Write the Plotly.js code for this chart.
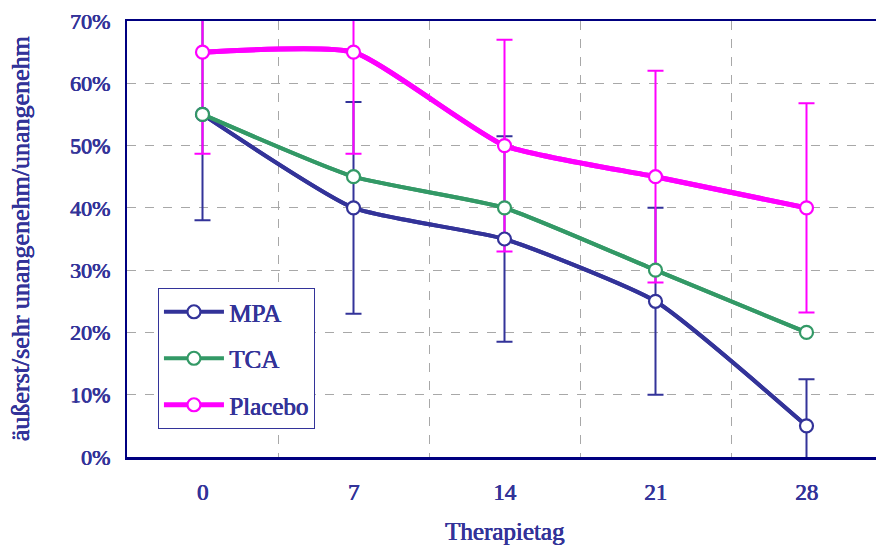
<!DOCTYPE html>
<html>
<head>
<meta charset="utf-8">
<script src="https://cdn.plot.ly/plotly-3.0.1.min.js"></script>
<style>
  html, body { margin: 0; padding: 0; width: 876px; height: 545px; overflow: hidden; background: #fff; }
</style>
</head>
<body>
<div id="chart"></div>
<script>
// Therapy days and the share of "extremely / very unpleasant" ratings per group
const days = [0, 7, 14, 21, 28];
const dayLabels = ['0', '7', '14', '21', '28'];
const seriesNames = ['MPA', 'TCA', 'Placebo'];
const mpa = [55, 40, 35, 25, 5];
const mpaErr = [17, 17, 16.5, 15, 7.5];
const tca = [55, 45, 40, 30, 20];
const placebo = [65, 65, 50, 45, 40];
const placeboErr = [16.3, 16.3, 17, 17, 16.8];
const yTicks = [0, 10, 20, 30, 40, 50, 60, 70];
const yTickLabels = yTicks.map(v => v + '%');

const textColor = '#333399';
const axisColor = '#000080';
const gridColor = '#a8a8a8';
const fontFamily = 'Liberation Serif';
// heavier strokes for the serif text
const heavy = '0.7px 0 0 ' + textColor + ', 0.35px 0.35px 0 ' + textColor;
const textFont = size => ({ family: fontFamily, color: textColor, size: size, shadow: heavy });

const styles = {
  MPA:     { color: '#333399', width: 4 },
  TCA:     { color: '#339966', width: 4 },
  Placebo: { color: '#ff00ff', width: 5 }
};
const values = { MPA: mpa, TCA: tca, Placebo: placebo };
const errors = { MPA: mpaErr, TCA: null, Placebo: placeboErr };

// boundaries between the therapy days carry the vertical dashed grid
const dayBounds = days.slice(1).map((d, i) => (d + days[i]) / 2);

const traces = [];

// first layer: smoothed lines with their error bars
seriesNames.forEach(name => {
  const s = styles[name];
  const t = {
    type: 'scatter', mode: 'lines', name: name, legendgroup: name, showlegend: false,
    x: days, y: values[name],
    line: { color: s.color, width: s.width, shape: 'spline', smoothing: 0.5 },
    hoverinfo: 'skip'
  };
  if (errors[name]) {
    t.error_y = { type: 'data', array: errors[name], visible: true,
                  color: s.color, thickness: 2, width: 8 };
  }
  traces.push(t);
});

// second layer: lines with open circle markers, kept on top of all error bars
seriesNames.forEach(name => {
  const s = styles[name];
  traces.push({
    type: 'scatter', mode: 'lines+markers', name: name, legendgroup: name,
    x: days, y: values[name],
    line: { color: s.color, width: s.width, shape: 'spline', smoothing: 0.5 },
    marker: { symbol: 'circle', size: 13, color: '#ffffff',
              line: { color: s.color, width: 2.2 } }
  });
});

const layout = {
  width: 882, height: 545,
  margin: { l: 127, r: 0, t: 21, b: 88 },
  paper_bgcolor: '#ffffff', plot_bgcolor: '#ffffff',
  font: textFont(21),
  showlegend: true,
  legend: {
    x: 0.041, y: 0.3876, xanchor: 'left', yanchor: 'top',
    bgcolor: '#ffffff', bordercolor: textColor, borderwidth: 1,
    font: textFont(25),
    itemwidth: 60,
    tracegroupgap: 11
  },
  xaxis: {
    range: [-3.5, 31.5], tickmode: 'array', tickvals: days, ticktext: dayLabels,
    showgrid: false, zeroline: false,
    showline: true, linecolor: axisColor, linewidth: 2.5, mirror: true,
    ticks: '', ticklabelstandoff: 13,
    tickfont: textFont(23),
    minor: { tickmode: 'array', tickvals: dayBounds, showgrid: true, gridcolor: gridColor,
             griddash: 'dash', gridwidth: 1, ticks: '' },
    title: { text: 'Therapietag', standoff: 22, font: textFont(25) }
  },
  yaxis: {
    range: [0, 70], tickmode: 'array', tickvals: yTicks, ticktext: yTickLabels,
    showgrid: true, gridcolor: gridColor, griddash: 'dash', gridwidth: 1,
    zeroline: false,
    showline: true, linecolor: axisColor, linewidth: 2.5, mirror: true,
    ticks: '', ticklabelstandoff: 10,
    tickfont: textFont(22),
    title: { text: 'äußerst/sehr unangenehm/unangenehm', standoff: 33, font: textFont(26) }
  }
};

Plotly.newPlot('chart', traces, layout, { displayModeBar: false, staticPlot: true });
</script>
</body>
</html>
